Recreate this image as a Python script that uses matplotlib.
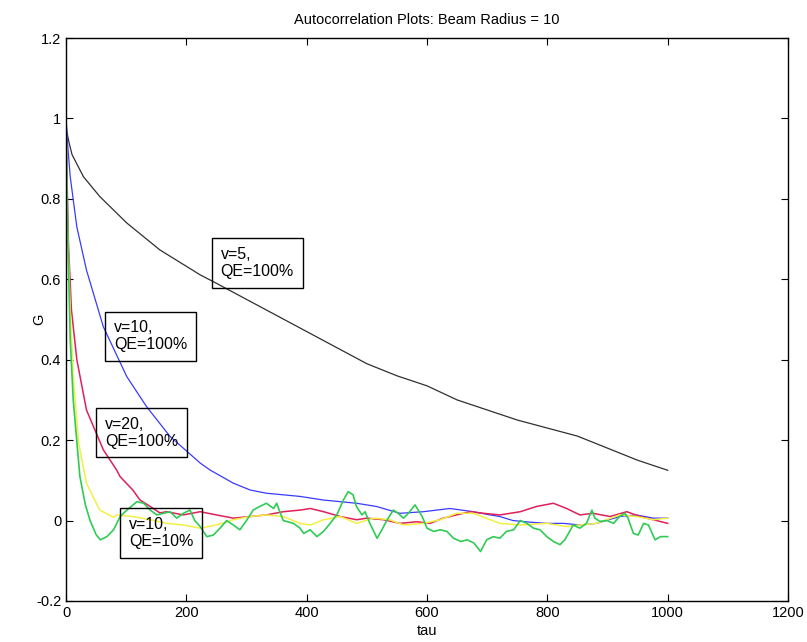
import matplotlib.pyplot as plt

plt.rcParams['font.family'] = ['Liberation Sans', 'DejaVu Sans']

# curves (tau, G)
tau_v5 = [0, 1, 5, 10, 29, 56, 101, 156, 223, 250, 300, 350, 400, 450, 500,
          550, 600, 650, 700, 750, 800, 850, 900, 950, 1000]
g_v5 = [1.0, 0.97, 0.94, 0.91, 0.855, 0.806, 0.74, 0.673, 0.611, 0.59, 0.55, 0.51,
        0.47, 0.43, 0.39, 0.36, 0.335, 0.30, 0.275, 0.25, 0.23, 0.21, 0.18, 0.15, 0.125]

tau_v10 = [0, 3, 7, 18, 34, 62, 101, 134, 173, 223, 239, 278, 306, 333, 361, 389,
           428, 483, 516, 555, 594, 638, 677, 705, 721, 743, 771, 799, 827, 854,
           882, 920, 948, 976, 1000]
g_v10 = [1.0, 0.93, 0.855, 0.73, 0.623, 0.482, 0.358, 0.283, 0.209, 0.143, 0.126,
         0.093, 0.076, 0.068, 0.064, 0.06, 0.051, 0.043, 0.035, 0.018, 0.022, 0.03,
         0.022, 0.014, 0.01, 0.0, -0.004, -0.007, -0.007, -0.011, -0.007, 0.01,
         0.014, 0.006, 0.006]

tau_v20 = [0, 2, 4, 9, 18, 34, 62, 84, 90, 111, 123, 140, 156, 167, 195, 223, 250,
           278, 306, 333, 361, 389, 406, 428, 456, 483, 500, 528, 555, 583, 605,
           627, 649, 672, 694, 721, 755, 782, 810, 832, 854, 876, 904, 932, 954,
           976, 1000]
g_v20 = [1.0, 0.83, 0.69, 0.524, 0.40, 0.275, 0.176, 0.126, 0.109, 0.076, 0.051,
         0.035, 0.019, 0.022, 0.014, 0.022, 0.014, 0.006, 0.01, 0.014, 0.022, 0.026,
         0.03, 0.022, 0.01, 0.002, 0.006, 0.002, -0.007, -0.003, -0.007, 0.006,
         0.014, 0.022, 0.018, 0.014, 0.022, 0.035, 0.043, 0.03, 0.014, 0.018, 0.01,
         0.022, 0.01, 0.002, -0.007]

tau_y = [0, 2, 7, 12, 21, 34, 56, 79, 85, 111, 140, 167, 195, 223, 250, 278, 306,
         333, 361, 389, 406, 428, 456, 483, 511, 538, 561, 594, 622, 649, 677, 705,
         721, 755, 799, 832, 854, 882, 920, 948, 976, 1000]
g_y = [1.0, 0.75, 0.524, 0.358, 0.193, 0.093, 0.026, 0.008, 0.014, 0.01, 0.002,
       -0.007, -0.011, -0.019, -0.011, 0.002, 0.01, 0.014, 0.01, -0.007, -0.011,
       0.002, 0.01, -0.007, 0.006, 0.002, -0.011, -0.007, 0.002, 0.018, 0.018,
       0.002, -0.007, -0.011, -0.007, -0.015, -0.011, -0.007, 0.014, 0.01, 0.002,
       0.006]

tau_g = [0, 3, 7, 12, 23, 32, 40, 50, 57, 68, 79, 90, 101, 118, 129, 140, 151, 162,
         173, 184, 195, 206, 214, 223, 234, 245, 256, 267, 278, 289, 300, 311, 322,
         333, 345, 350, 361, 378, 389, 395, 406, 417, 428, 439, 450, 461, 469, 477,
         483, 492, 497, 505, 517, 525, 533, 544, 552, 561, 569, 580, 592, 600, 611,
         622, 633, 644, 656, 667, 678, 689, 699, 710, 721, 732, 744, 755, 766, 777,
         788, 799, 810, 821, 829, 837, 843, 854, 865, 874, 879, 887, 899, 910, 920,
         929, 934, 943, 951, 960, 968, 979, 988, 1000]
g_g = [1.0, 0.70, 0.45, 0.30, 0.11, 0.04, 0.0, -0.035, -0.048, -0.04, -0.023,
       0.01, 0.026, 0.047, 0.043, 0.026, 0.014, 0.018, 0.022, 0.006, 0.018, 0.026,
       0.0, -0.015, -0.04, -0.036, -0.019, 0.0, -0.011, -0.023, 0.0, 0.026, 0.035,
       0.043, 0.03, 0.043, 0.0, -0.007, -0.019, -0.032, -0.023, -0.04, -0.027,
       -0.007, 0.014, 0.051, 0.072, 0.064, 0.034, 0.014, 0.022, -0.007, -0.044,
       -0.023, 0.0, 0.026, 0.018, 0.006, 0.018, 0.039, 0.01, -0.019, -0.027,
       -0.023, -0.027, -0.044, -0.052, -0.048, -0.056, -0.077, -0.048, -0.04,
       -0.044, -0.027, -0.023, 0.0, -0.007, -0.019, -0.023, -0.04, -0.052, -0.06,
       -0.048, -0.027, -0.011, -0.019, -0.007, 0.026, 0.006, -0.002, 0.0, -0.007,
       0.01, 0.018, 0.006, -0.032, -0.036, -0.007, -0.011, -0.048, -0.04, -0.04]

labels = ['v=5,\nQE=100%', 'v=10,\nQE=100%', 'v=20,\nQE=100%', 'v=10,\nQE=10%']
label_pos = [(257, 0.68), (80, 0.498), (65, 0.258), (105, 0.009)]

fig = plt.figure(figsize=(8.07, 6.42), dpi=100)
ax = fig.add_axes([0.0818, 0.0639, 0.8947, 0.8769])

ax.plot(tau_v5, g_v5, color='#303030', lw=0.9)
ax.plot(tau_v10, g_v10, color='#3a3aff', lw=0.9)
ax.plot(tau_v20, g_v20, color='#e0205a', lw=1.1)
ax.plot(tau_y, g_y, color='#f2f044', lw=1.1)
ax.plot(tau_g, g_g, color='#2fcc55', lw=1.2)

for txt, (x, y) in zip(labels, label_pos):
    ax.text(x, y, txt, fontsize=11.5, va='top', ha='left', linespacing=1.15,
            bbox=dict(boxstyle='square,pad=0.55', fc='none', ec='black', lw=1))

ax.set_xlim(0, 1200)
ax.set_ylim(-0.2, 1.2)
ax.set_xticks(range(0, 1201, 200))
ax.set_yticks([-0.2, 0, 0.2, 0.4, 0.6, 0.8, 1.0, 1.2])
ax.set_yticklabels(['-0.2', '0', '0.2', '0.4', '0.6', '0.8', '1', '1.2'])
ax.tick_params(direction='in', top=True, right=True, labelsize=10.5, length=5)
for s in ax.spines.values():
    s.set_linewidth(1)
ax.set_xlabel('tau', fontsize=10.5, labelpad=3)
ax.set_ylabel('G', fontsize=10.5)
# matlab puts the y label in among the tick labels
ax.yaxis.set_label_coords(-0.028, 0.5)
ax.set_title('Autocorrelation Plots: Beam Radius = 10', fontsize=10.5, pad=10)

fig.savefig('out.png', dpi=100)
